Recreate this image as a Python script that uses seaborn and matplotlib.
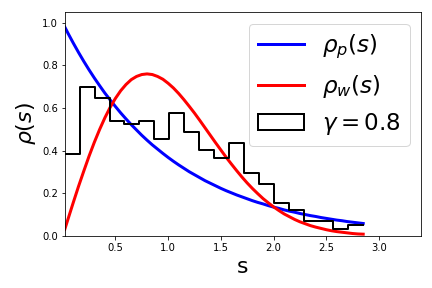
import seaborn as sns
import matplotlib.pyplot as plt
from matplotlib.patches import Patch

# curve samples (s step 0.05)
s_vals = [0.02, 0.05, 0.1, 0.15, 0.2, 0.25, 0.3, 0.35, 0.4, 0.45, 0.5, 0.55, 0.6, 0.65,
          0.7, 0.75, 0.8, 0.85, 0.9, 0.95, 1.0, 1.05, 1.1, 1.15, 1.2, 1.25, 1.3, 1.35,
          1.4, 1.45, 1.5, 1.55, 1.6, 1.65, 1.7, 1.75, 1.8, 1.85, 1.9, 1.95, 2.0, 2.05,
          2.1, 2.15, 2.2, 2.25, 2.3, 2.35, 2.4, 2.45, 2.5, 2.55, 2.6, 2.65, 2.7, 2.75,
          2.8, 2.85]

rho_p = [0.980, 0.951, 0.905, 0.861, 0.819, 0.779, 0.741, 0.705, 0.670, 0.638, 0.607,
         0.577, 0.549, 0.522, 0.497, 0.472, 0.449, 0.427, 0.407, 0.387, 0.368, 0.350,
         0.333, 0.317, 0.301, 0.287, 0.273, 0.259, 0.247, 0.235, 0.223, 0.212, 0.202,
         0.192, 0.183, 0.174, 0.165, 0.157, 0.150, 0.142, 0.135, 0.129, 0.122, 0.116,
         0.111, 0.105, 0.100, 0.095, 0.091, 0.086, 0.082, 0.078, 0.074, 0.071, 0.067,
         0.064, 0.061, 0.058]

rho_w = [0.031, 0.078, 0.156, 0.232, 0.304, 0.374, 0.439, 0.499, 0.554, 0.603, 0.645,
         0.681, 0.710, 0.733, 0.748, 0.757, 0.760, 0.757, 0.748, 0.735, 0.716, 0.694,
         0.668, 0.639, 0.608, 0.576, 0.542, 0.507, 0.472, 0.437, 0.403, 0.369, 0.337,
         0.306, 0.276, 0.248, 0.222, 0.198, 0.175, 0.155, 0.136, 0.119, 0.103, 0.090,
         0.077, 0.066, 0.057, 0.048, 0.041, 0.035, 0.029, 0.024, 0.020, 0.017, 0.014,
         0.011, 0.009, 0.008]

# histogram (gamma = 0.8), density per bin
bin_edges = [0.02, 0.162, 0.303, 0.445, 0.586, 0.728, 0.869, 1.011, 1.152, 1.294, 1.435,
             1.577, 1.718, 1.860, 2.001, 2.143, 2.284, 2.426, 2.567, 2.709, 2.85]
hist_vals = [0.383, 0.698, 0.646, 0.537, 0.527, 0.537, 0.453, 0.576, 0.487, 0.405,
             0.366, 0.436, 0.296, 0.243, 0.156, 0.121, 0.072, 0.072, 0.033, 0.051]

centers = [(a + b) / 2 for a, b in zip(bin_edges[:-1], bin_edges[1:])]

fig = plt.figure(figsize=(6, 4), dpi=72)
ax = fig.add_axes([0.150, 0.181, 0.825, 0.777])

sns.lineplot(x=s_vals, y=rho_p, color='blue', linewidth=3, ax=ax, label=r'$\rho_p(s)$')
sns.lineplot(x=s_vals, y=rho_w, color='red', linewidth=3, ax=ax, label=r'$\rho_w(s)$')
sns.histplot(x=centers, weights=hist_vals, bins=bin_edges, element='step', fill=False,
             color='black', linewidth=2, ax=ax)

ax.set_xlim(0.02, 3.4)
ax.set_ylim(0, 1.05)
ax.set_xticks([0.5, 1.0, 1.5, 2.0, 2.5, 3.0])
ax.set_yticks([0.0, 0.2, 0.4, 0.6, 0.8, 1.0])
ax.set_xlabel('s', fontsize=22)
ax.set_ylabel(r'$\rho(s)$', fontsize=22)

handles, labels = ax.get_legend_handles_labels()
handles = handles[:2] + [Patch(facecolor='white', edgecolor='black', linewidth=2)]
labels = labels[:2] + [r'$\gamma=0.8$']
ax.legend(handles, labels, loc='upper right', fontsize=23)

plt.savefig('out.png', dpi=72)
